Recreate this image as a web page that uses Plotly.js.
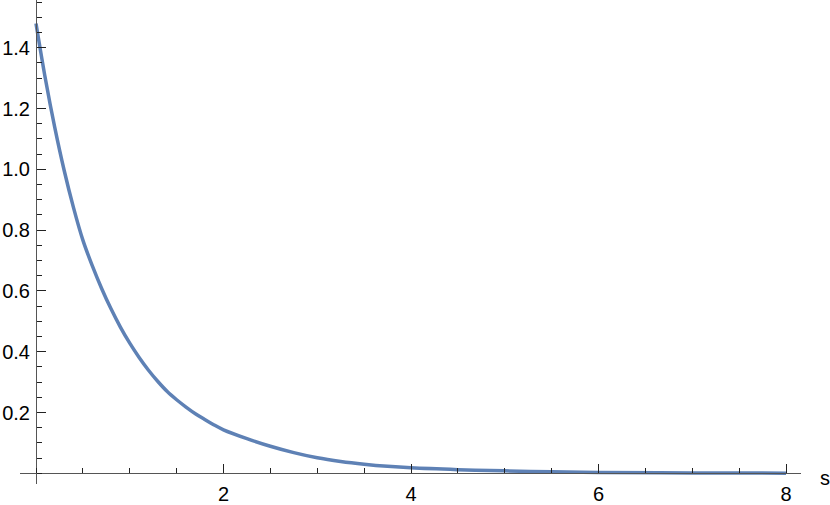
<!DOCTYPE html>
<html>
<head>
<meta charset="utf-8">
<script src="https://cdn.plot.ly/plotly-3.0.1.min.js"></script>
<style>
  body { margin: 0; background: #fff; }
  #myPlot1 { width: 830px; height: 505px; }
</style>
</head>
<body>
<div id="myPlot1"></div>
<script>
// values
var sValues = [0, 0.1, 0.2, 0.3, 0.4, 0.5, 0.6, 0.7, 0.8, 0.9, 1.0,
               1.1, 1.2, 1.3, 1.4, 1.5, 1.6, 1.7, 1.8, 1.9, 2.0,
               2.25, 2.5, 2.75, 3.0, 3.25, 3.5, 3.75, 4.0, 4.5, 5.0, 5.5, 6.0, 7.0, 8.0];
var curveValues = [1.48, 1.298, 1.138, 0.997, 0.874, 0.767, 0.683, 0.608, 0.541, 0.481, 0.428,
                   0.381, 0.339, 0.302, 0.269, 0.242, 0.218, 0.196, 0.177, 0.159, 0.143,
                   0.114, 0.089, 0.068, 0.051, 0.039, 0.030, 0.023, 0.018, 0.012, 0.008, 0.005, 0.003, 0.0012, 0.0005];

var xTickVals = [2, 4, 6, 8];
var xTickText = ['2', '4', '6', '8'];
var yTickVals = [0.2, 0.4, 0.6, 0.8, 1.0, 1.2, 1.4];
var yTickText = ['0.2', '0.4', '0.6', '0.8', '1.0', '1.2', '1.4'];

var trace1 = {
	x: sValues,
	y: curveValues,
	type: 'scatter',
	mode: 'lines',
	line: {color: '#5E81B5', width: 3.5, shape: 'spline', smoothing: 1},
	hoverinfo: 'none'
};

var tickFont = {family: 'Liberation Sans, Arial, sans-serif', size: 20, color: '#000'};

var plotLayout1 = {
	width: 830,
	height: 505,
	margin: {l: 20, r: 29, t: 0, b: 21},
	showlegend: false,
	paper_bgcolor: '#fff',
	plot_bgcolor: '#fff',
	xaxis: {
		range: [-0.1707, 8.16],
		anchor: 'free',
		position: 0.0221,
		showline: true,
		linecolor: '#555',
		linewidth: 1,
		showgrid: false,
		zeroline: false,
		tickmode: 'array',
		tickvals: xTickVals,
		ticktext: xTickText,
		ticks: 'inside',
		ticklen: 9,
		tickcolor: '#222',
		tickfont: tickFont,
		ticklabelstandoff: 3,
		minor: {dtick: 0.5, tick0: 0, ticks: 'inside', ticklen: 5, tickcolor: '#222', showgrid: false}
	},
	yaxis: {
		range: [-0.0352, 1.557],
		anchor: 'free',
		position: 0.0205,
		showline: true,
		linecolor: '#555',
		linewidth: 1,
		showgrid: false,
		zeroline: false,
		tickmode: 'array',
		tickvals: yTickVals,
		ticktext: yTickText,
		ticks: 'inside',
		ticklen: 9,
		tickcolor: '#222',
		tickfont: tickFont,
		ticklabelstandoff: 2,
		minor: {dtick: 0.05, tick0: 0, ticks: 'inside', ticklen: 5, tickcolor: '#222', showgrid: false}
	},
	annotations: [{
		text: 's',
		xref: 'paper', yref: 'y',
		x: 1, y: 0,
		xanchor: 'left', yanchor: 'middle',
		xshift: 17, yshift: -5,
		showarrow: false,
		font: tickFont
	}]
};

var myPlot1 = document.getElementById('myPlot1');
Plotly.newPlot(myPlot1, [trace1], plotLayout1, {displayModeBar: false, staticPlot: true});
</script>
</body>
</html>
